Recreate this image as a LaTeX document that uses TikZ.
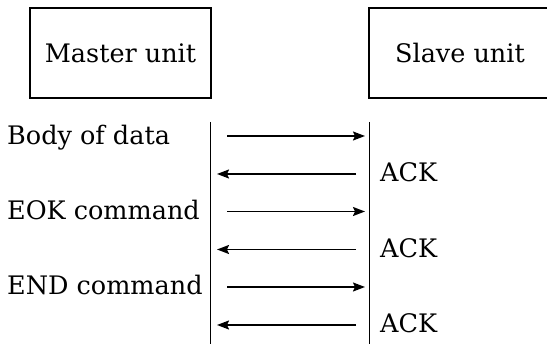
\documentclass[tikz,border=0pt]{standalone}
\usepackage{fontspec}
\setmainfont{DejaVu Serif}
\usetikzlibrary{arrows.meta}
\begin{document}
\begin{tikzpicture}[x=1pt,y=-1pt,
  unitbox/.style={draw=black,line width=1.1pt,minimum height=90pt,inner sep=0pt,font=\fontsize{25.5}{30}\selectfont},
  lbl/.style={anchor=base west,inner sep=0pt,font=\fontsize{25.5}{30}\selectfont},
  lifeline/.style={line width=1pt},
  msg/.style={line width=1.6pt,-{Stealth[length=12pt,width=9pt,inset=2pt]}}]
\useasboundingbox (0,0) rectangle (547,344);
\clip (0,0) rectangle (547,344);
% unit boxes
\node[unitbox,minimum width=181pt] (master) at (120.5,53) {Master unit};
\node[unitbox,minimum width=182pt] (slave) at (460,53) {Slave unit};
% lifelines
\coordinate (mtop) at (210.7,122);
\coordinate (mbot) at (210.7,345);
\coordinate (stop) at (369,122);
\coordinate (sbot) at (369,345);
\draw[lifeline] (mtop) -- (mbot);
\draw[lifeline] (stop) -- (sbot);
% message endpoints
\foreach \i/\y in {1/136,3/211.5,5/287}{
  \coordinate (a\i s) at (227,\y);
  \coordinate (a\i e) at (365,\y);
}
\foreach \i/\y in {2/174,4/249.5,6/325}{
  \coordinate (a\i s) at (356,\y);
  \coordinate (a\i e) at (217,\y);
}
\foreach \i in {1,...,6}{\draw[msg] (a\i s) -- (a\i e);}
% labels
\node[lbl] (l1) at (7,145) {Body of data};
\node[lbl] (l3) at (7,220) {EOK command};
\node[lbl] (l5) at (7,295) {END command};
\node[lbl] (k2) at (380,182) {ACK};
\node[lbl] (k4) at (380,257.5) {ACK};
\node[lbl] (k6) at (380,333) {ACK};
\end{tikzpicture}
\end{document}
